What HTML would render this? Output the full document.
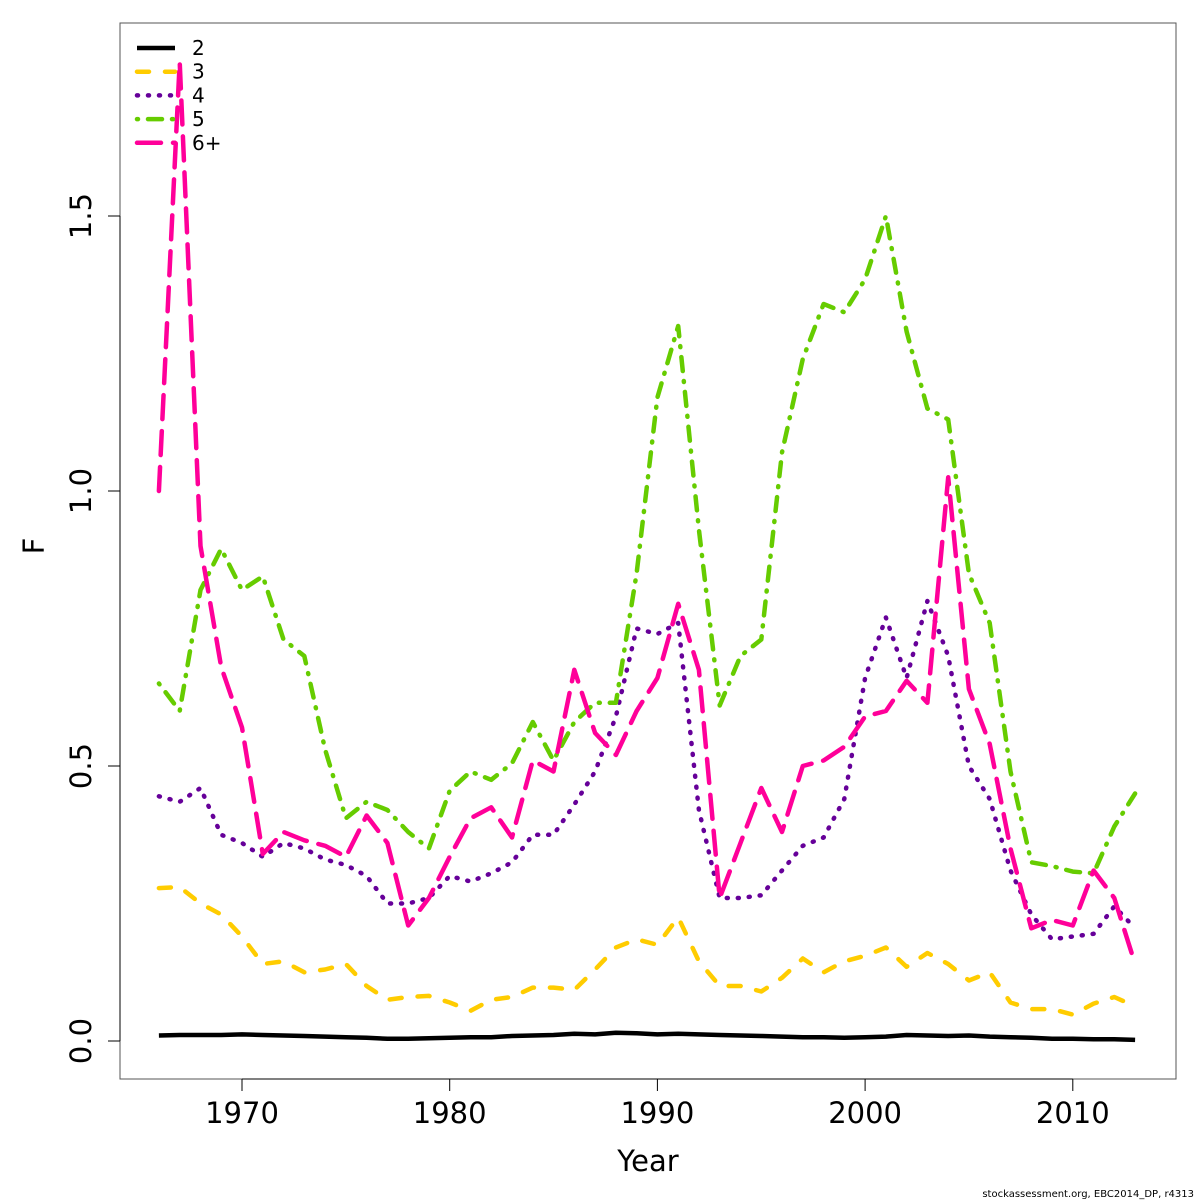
<!DOCTYPE html>
<html><head><meta charset="utf-8"><style>
body{margin:0;background:#fff}
svg{display:block;font-family:"DejaVu Sans","Liberation Sans",sans-serif}
</style></head><body>
<svg id="chart" width="1200" height="1200">
<rect x="120" y="23" width="1056" height="1056" fill="none" stroke="#555" stroke-width="1"/>
<g id="axes"></g>
<g id="series"></g>
<g id="legend"></g>
<text x="648" y="1171" font-size="29" text-anchor="middle">Year</text>
<text transform="translate(44,546) rotate(-90)" font-size="29" text-anchor="middle">F</text>
<text x="1194" y="1197" font-size="10" text-anchor="end">stockassessment.org, EBC2014_DP, r4313</text>
</svg>
<script>
const years=[];for(let y=1966;y<=2013;y++)years.push(y);
const xTicks=[1970,1980,1990,2000,2010];
const yTicks=[0,0.5,1.0,1.5];
const yTickLabels=["0.0","0.5","1.0","1.5"];
const seriesNames=["2","3","4","5","6+"];
const age2=[0.010,0.011,0.011,0.011,0.012,0.011,0.010,0.009,0.008,0.007,0.006,0.004,0.004,0.005,0.006,0.007,0.007,0.009,0.010,0.011,0.013,0.012,0.015,0.014,0.012,0.013,0.012,0.011,0.010,0.009,0.008,0.007,0.007,0.006,0.007,0.008,0.011,0.010,0.009,0.010,0.008,0.007,0.006,0.004,0.004,0.003,0.003,0.002];
const age3=[0.278,0.28,0.25,0.23,0.19,0.14,0.145,0.125,0.13,0.14,0.10,0.075,0.08,0.082,0.07,0.055,0.075,0.08,0.097,0.097,0.093,0.13,0.17,0.185,0.175,0.225,0.145,0.10,0.10,0.09,0.115,0.15,0.125,0.145,0.155,0.17,0.135,0.16,0.14,0.11,0.125,0.07,0.058,0.058,0.048,0.068,0.08,0.063];
const age4=[0.445,0.435,0.46,0.375,0.36,0.335,0.36,0.35,0.33,0.32,0.30,0.25,0.25,0.26,0.30,0.29,0.305,0.325,0.375,0.375,0.43,0.49,0.59,0.75,0.74,0.76,0.42,0.26,0.26,0.265,0.31,0.355,0.37,0.44,0.66,0.77,0.66,0.80,0.70,0.50,0.44,0.31,0.23,0.185,0.19,0.195,0.245,0.205];
const age5=[0.65,0.60,0.82,0.895,0.82,0.845,0.73,0.70,0.53,0.405,0.435,0.42,0.38,0.35,0.455,0.49,0.475,0.505,0.58,0.51,0.58,0.615,0.615,0.85,1.17,1.30,0.93,0.61,0.70,0.73,1.07,1.24,1.34,1.325,1.385,1.50,1.29,1.15,1.13,0.85,0.76,0.49,0.325,0.318,0.308,0.305,0.39,0.45];
const age6=[1.00,1.78,0.90,0.68,0.57,0.34,0.38,0.365,0.355,0.335,0.41,0.36,0.21,0.26,0.335,0.405,0.425,0.37,0.51,0.49,0.675,0.56,0.52,0.60,0.66,0.795,0.675,0.26,0.36,0.46,0.38,0.50,0.51,0.535,0.59,0.60,0.655,0.615,1.025,0.64,0.54,0.35,0.205,0.22,0.21,0.31,0.26,0.14];
const allSeries=[age2,age3,age4,age5,age6];
const colors=["#000000","#FFCC00","#660099","#66CC00","#FF0099"];
const dashes=["none","12 16","1 10","1 10 14 10","24 12"];
const NS="http://www.w3.org/2000/svg";
const xs=y=>242+(y-1970)*20.77;
const ys=v=>1041-v*550;
function mk(tag,attrs,parent){const e=document.createElementNS(NS,tag);for(const k in attrs)e.setAttribute(k,attrs[k]);parent.appendChild(e);return e;}
const axes=document.getElementById('axes');
const xl=mk('line',{x1:xs(1970),x2:xs(2010),y1:1079,y2:1079,stroke:'#000'},axes);


xTicks.forEach(t=>{
 const l=mk('line',{x1:xs(t),x2:xs(t),y1:1079,y2:1091,stroke:'#000'},axes);
 
 
 const tx=mk('text',{x:xs(t),y:1123,'font-size':29,'text-anchor':'middle'},axes);tx.textContent=t;
 
 
});
const yl=mk('line',{x1:120,x2:120,y1:ys(0),y2:ys(1.5),stroke:'#000'},axes);


yTicks.forEach((t,i)=>{
 const l=mk('line',{x1:108,x2:120,y1:ys(t),y2:ys(t),stroke:'#000'},axes);
 
 
 const tx=mk('text',{transform:`translate(91,${ys(t)}) rotate(-90)`,'font-size':29,'text-anchor':'middle'},axes);tx.textContent=yTickLabels[i];
 
 
});
const sg=document.getElementById('series');
allSeries.forEach((s,i)=>{
 const d=s.map((v,j)=>(j?'L':'M')+xs(years[j]).toFixed(1)+','+ys(v).toFixed(1)).join('');
 const p=mk('path',{d,fill:'none',stroke:colors[i],'stroke-width':4.5,'stroke-dasharray':dashes[i],'stroke-linecap':i?'round':'butt','stroke-linejoin':'round'},sg);
 
 
});
const lg=document.getElementById('legend');
seriesNames.forEach((n,i)=>{
 const y=48+i*23.7;
 const l=mk('line',{x1:137,x2:175,y1:y,y2:y,stroke:colors[i],'stroke-width':4.5,'stroke-dasharray':dashes[i],'stroke-linecap':i?'round':'butt'},lg);
 
 
 const t=mk('text',{x:192,y:y+7,'font-size':20},lg);t.textContent=n;
 
 
});
</script>
</body></html>
